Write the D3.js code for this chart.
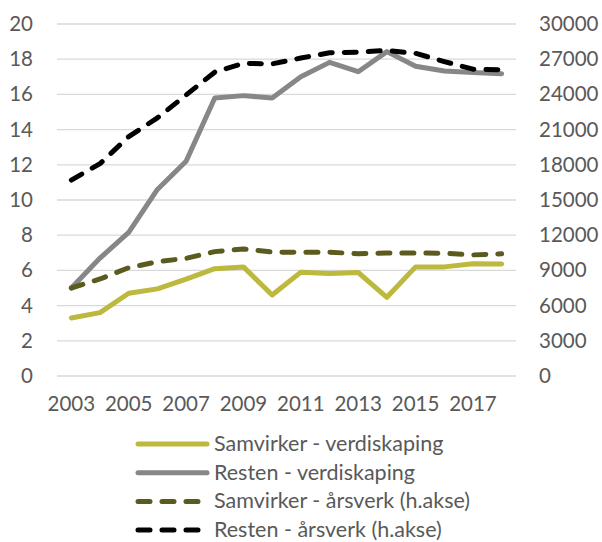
<!DOCTYPE html>
<html>
<head>
<meta charset="utf-8">
<script src="https://cdn.jsdelivr.net/npm/d3@7"></script>
<style>
  html, body { margin: 0; padding: 0; background: #fff; }
  svg text { font-family: Lato, "Open Sans", sans-serif; fill: #595959; }
</style>
</head>
<body>
<svg id="chart" width="602" height="542"></svg>
<script>
// Years on the category axis
const years = [2003, 2004, 2005, 2006, 2007, 2008, 2009, 2010, 2011, 2012, 2013, 2014, 2015, 2016, 2017, 2018];
const xTickLabels = ["2003", "2005", "2007", "2009", "2011", "2013", "2015", "2017"];

// Left axis series (verdiskaping)
const samvirkerVerdi = [3.3, 3.6, 4.7, 4.95, 5.5, 6.1, 6.2, 4.6, 5.9, 5.82, 5.88, 4.47, 6.2, 6.2, 6.38, 6.36];
const restenVerdi = [5.0, 6.7, 8.16, 10.6, 12.2, 15.8, 15.93, 15.8, 17.0, 17.82, 17.29, 18.43, 17.6, 17.33, 17.25, 17.18];

// Right axis series (årsverk, h.akse)
const samvirkerArsverk = [7500, 8270, 9230, 9740, 10030, 10600, 10830, 10560, 10550, 10550, 10420, 10480, 10480, 10460, 10320, 10420];
const restenArsverk = [16700, 18100, 20400, 22000, 23950, 25900, 26650, 26600, 27100, 27550, 27600, 27750, 27500, 26800, 26150, 26100];

const leftTicks = [0, 2, 4, 6, 8, 10, 12, 14, 16, 18, 20];
const rightTicks = [0, 3000, 6000, 9000, 12000, 15000, 18000, 21000, 24000, 27000, 30000];

const seriesInfo = [
  { name: "Samvirker - verdiskaping", values: samvirkerVerdi, axis: "left", color: "#BDB83E", dash: null },
  { name: "Resten - verdiskaping", values: restenVerdi, axis: "left", color: "#878787", dash: null },
  { name: "Samvirker - årsverk (h.akse)", values: samvirkerArsverk, axis: "right", color: "#5B5A1F", dash: "12,12" },
  { name: "Resten - årsverk (h.akse)", values: restenArsverk, axis: "right", color: "#000000", dash: "12,12" }
];

const svg = d3.select("#chart");
const plot = { left: 57, right: 516, top: 24, bottom: 376 };

const x = d3.scaleBand().domain(years).range([plot.left, plot.right]);
const yL = d3.scaleLinear().domain([0, 20]).range([plot.bottom, plot.top]);
const yR = d3.scaleLinear().domain([0, 30000]).range([plot.bottom, plot.top]);
const cx = d => x(d) + x.bandwidth() / 2;

// Gridlines
svg.append("g")
  .selectAll("line")
  .data(leftTicks)
  .join("line")
  .attr("x1", plot.left).attr("x2", plot.right)
  .attr("y1", d => yL(d)).attr("y2", d => yL(d))
  .attr("stroke", "#D9D9D9").attr("stroke-width", 1.3);

const tickFont = "20.5px";

// Left axis
const leftAxis = svg.append("g")
  .attr("transform", `translate(${plot.left},0)`)
  .call(d3.axisLeft(yL).tickValues(leftTicks).tickSize(0).tickPadding(24));
leftAxis.select(".domain").remove();
leftAxis.selectAll("text").style("font-size", tickFont).attr("fill", "#595959");

// Right axis
const rightAxis = svg.append("g")
  .attr("transform", `translate(${plot.right},0)`)
  .call(d3.axisRight(yR).tickValues(rightTicks).tickFormat(d3.format("d")).tickSize(0).tickPadding(23));
rightAxis.select(".domain").remove();
rightAxis.selectAll("text").style("font-size", tickFont).attr("fill", "#595959");

// Bottom axis
const bottomAxis = svg.append("g")
  .attr("transform", `translate(0,${plot.bottom})`)
  .call(d3.axisBottom(x).tickValues(xTickLabels.map(Number)).tickSize(0).tickPadding(20));
bottomAxis.select(".domain").remove();
bottomAxis.selectAll("text").style("font-size", tickFont).attr("fill", "#595959");

// Lines
const lineGroup = svg.append("g");
seriesInfo.forEach(s => {
  const ys = s.axis === "left" ? yL : yR;
  const gen = d3.line().x((d, i) => cx(years[i])).y(d => ys(d));
  lineGroup.append("path")
    .datum(s.values)
    .attr("d", gen)
    .attr("fill", "none")
    .attr("stroke", s.color)
    .attr("stroke-width", 5)
    .attr("stroke-linejoin", "round")
    .attr("stroke-linecap", "round")
    .attr("stroke-dasharray", s.dash);
});

// Legend
const legend = svg.append("g");
seriesInfo.forEach((s, i) => {
  const ly = 444 + i * 28.7;
  legend.append("line")
    .attr("x1", 138).attr("x2", 207)
    .attr("y1", ly).attr("y2", ly)
    .attr("stroke", s.color)
    .attr("stroke-width", 5)
    .attr("stroke-linecap", "round")
    .attr("stroke-dasharray", s.dash ? "12,12" : null);
  legend.append("text")
    .attr("x", 214).attr("y", ly)
    .attr("dy", "0.33em")
    .style("font-size", "21.5px")
    .text(s.name);
});
</script>
</body>
</html>
